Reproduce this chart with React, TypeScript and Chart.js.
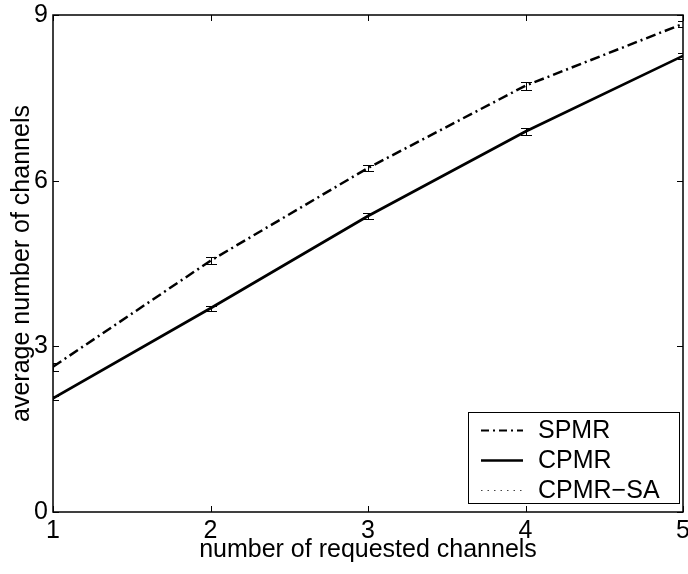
import React, { useEffect, useRef } from "react";
import { Chart, registerables } from "chart.js";

Chart.register(...registerables);

// number of requested channels
const requested = [1, 2, 3, 4, 5];
// average number of channels
const spmr = [2.63, 4.55, 6.23, 7.72, 8.84];
const cpmr = [2.06, 3.69, 5.36, 6.89, 8.26];
const cpmrSa = [2.06, 3.69, 5.36, 6.89, 8.26];
// half-widths of the error bars
const spmrErr = [0.075, 0.065, 0.06, 0.07, 0.055];
const cpmrErr = [0.04, 0.045, 0.06, 0.065, 0.05];
const cpmrSaErr = [0.04, 0.045, 0.06, 0.065, 0.05];

const xTicks = [1, 2, 3, 4, 5];
const yTicks = [0, 3, 6, 9];

const seriesNames = ["SPMR", "CPMR", "CPMR\u2212SA"];

const FONT = "'Liberation Sans', Arial, Helvetica, sans-serif";
const FS = 25;

export default function App() {
  const ref = useRef<HTMLCanvasElement>(null);

  useEffect(() => {
    if (!ref.current) return;
    const errs = [spmrErr, cpmrErr, cpmrSaErr];

    const errorBarPlugin = {
      id: "errorBars",
      afterDatasetsDraw(chart: any) {
        const { ctx, chartArea: a } = chart;
        const xs = chart.scales.x;
        const ys = chart.scales.y;
        ctx.save();
        ctx.beginPath();
        ctx.rect(a.left, a.top, a.right - a.left, a.bottom - a.top);
        ctx.clip();
        ctx.strokeStyle = "#000";
        ctx.lineWidth = 1;
        chart.data.datasets.forEach((ds: any, i: number) => {
          if (i === 2) return;
          ds.data.forEach((p: any, j: number) => {
            const px = Math.round(xs.getPixelForValue(p.x)) + 0.5;
            const y1 = Math.round(ys.getPixelForValue(p.y + errs[i][j])) + 0.5;
            const y2 = Math.round(ys.getPixelForValue(p.y - errs[i][j])) + 0.5;
            const hw = 5.5;
            ctx.beginPath();
            ctx.moveTo(px, y1);
            ctx.lineTo(px, y2);
            ctx.moveTo(px - hw, y1);
            ctx.lineTo(px + hw, y1);
            ctx.moveTo(px - hw, y2);
            ctx.lineTo(px + hw, y2);
            ctx.stroke();
          });
        });
        ctx.restore();
      },
    };

    const framePlugin = {
      id: "frame",
      afterDraw(chart: any) {
        const { ctx, chartArea: a } = chart;
        const xs = chart.scales.x;
        const ys = chart.scales.y;
        ctx.save();
        ctx.strokeStyle = "#000";
        ctx.lineWidth = 1;
        const tl = 6;
        xTicks.forEach((v) => {
          const px = Math.round(xs.getPixelForValue(v)) + 0.5;
          ctx.beginPath();
          ctx.moveTo(px, a.bottom);
          ctx.lineTo(px, a.bottom - tl);
          ctx.moveTo(px, a.top);
          ctx.lineTo(px, a.top + tl);
          ctx.stroke();
        });
        yTicks.forEach((v) => {
          const py = Math.round(ys.getPixelForValue(v)) + 0.5;
          ctx.beginPath();
          ctx.moveTo(a.left, py);
          ctx.lineTo(a.left + tl, py);
          ctx.moveTo(a.right, py);
          ctx.lineTo(a.right - tl, py);
          ctx.stroke();
        });
        ctx.lineWidth = 1.5;
        ctx.strokeRect(a.left, a.top, a.right - a.left, a.bottom - a.top);

        // legend
        const boxW = 211;
        const boxH = 91;
        const right = a.right - 4;
        const bottom = a.bottom - 9;
        const left = right - boxW;
        const top = bottom - boxH;
        ctx.fillStyle = "#fff";
        ctx.fillRect(left, top, boxW, boxH);
        ctx.lineWidth = 1;
        ctx.strokeStyle = "#000";
        ctx.strokeRect(left + 0.5, top + 0.5, boxW, boxH);
        ctx.font = FS + "px " + FONT;
        ctx.textBaseline = "middle";
        ctx.textAlign = "left";
        const legendStyles = [
          { w: 2, dash: [8, 4, 2, 4], color: "#000" },
          { w: 2.5, dash: [], color: "#000" },
          { w: 1, dash: [1.5, 5], color: "#444" },
        ];
        chart.data.datasets.forEach((ds: any, i: number) => {
          const cy = top + 18 + i * 30;
          const st = legendStyles[i];
          ctx.save();
          ctx.strokeStyle = st.color;
          ctx.lineWidth = st.w;
          ctx.setLineDash(st.dash);
          ctx.beginPath();
          ctx.moveTo(left + 13, cy + 0.5);
          ctx.lineTo(left + 55, cy + 0.5);
          ctx.stroke();
          ctx.restore();
          ctx.fillStyle = "#000";
          ctx.fillText(ds.label, left + 70, cy + 1);
        });
        ctx.restore();
      },
    };

    const toPts = (arr: number[]) => requested.map((x, i) => ({ x, y: arr[i] }));

    const chart = new Chart(ref.current, {
      type: "line",
      data: {
        datasets: [
          {
            label: seriesNames[0],
            data: toPts(spmr),
            borderColor: "#000",
            borderWidth: 2.5,
            borderDash: [10, 4, 2, 4],
            pointRadius: 0,
            tension: 0,
            fill: false,
          },
          {
            label: seriesNames[1],
            data: toPts(cpmr),
            borderColor: "#000",
            borderWidth: 2.7,
            pointRadius: 0,
            tension: 0,
            fill: false,
          },
          {
            label: seriesNames[2],
            data: toPts(cpmrSa),
            borderColor: "#444",
            borderWidth: 1,
            borderDash: [1.5, 5],
            pointRadius: 0,
            tension: 0,
            fill: false,
          },
        ],
      },
      options: {
        responsive: false,
        animation: false,
        devicePixelRatio: 1,
        layout: { padding: { top: 15, right: 5, left: 0, bottom: 0 } },
        plugins: { legend: { display: false }, tooltip: { enabled: false } },
        scales: {
          x: {
            type: "linear",
            min: 1,
            max: 5,
            afterFit: (s: any) => {
              s.height = 62;
              s.paddingLeft = 0;
              s.paddingRight = 0;
            },
            afterBuildTicks: (s: any) => {
              s.ticks = xTicks.map((v) => ({ value: v }));
            },
            ticks: {
              color: "#000",
              font: { family: FONT, size: FS },
              padding: 4,
              maxRotation: 0,
              callback: (v: any) => String(v),
            },
            grid: { display: false, drawTicks: false, tickLength: 0 },
            border: { display: false },
            title: {
              display: true,
              text: "number of requested channels",
              color: "#000",
              font: { family: FONT, size: FS },
              padding: { top: 0, bottom: 9 },
            },
          },
          y: {
            type: "linear",
            min: 0,
            max: 9,
            afterFit: (s: any) => {
              s.width = 53;
              s.paddingTop = 0;
              s.paddingBottom = 0;
            },
            afterBuildTicks: (s: any) => {
              s.ticks = yTicks.map((v) => ({ value: v }));
            },
            ticks: {
              color: "#000",
              font: { family: FONT, size: FS },
              padding: 5,
              callback: (v: any) => String(v),
            },
            grid: { display: false, drawTicks: false, tickLength: 0 },
            border: { display: false },
            title: {
              display: true,
              text: "average number of channels",
              color: "#000",
              font: { family: FONT, size: FS },
              padding: { top: 7, bottom: 0 },
            },
          },
        },
      },
      plugins: [errorBarPlugin, framePlugin],
    } as any);

    return () => chart.destroy();
  }, []);

  return (
    <div style={{ position: "fixed", left: 0, top: 0, width: 688, height: 574, background: "#fff" }}>
      <canvas ref={ref} width={688} height={574} style={{ display: "block", width: 688, height: 574 }} />
    </div>
  );
}
